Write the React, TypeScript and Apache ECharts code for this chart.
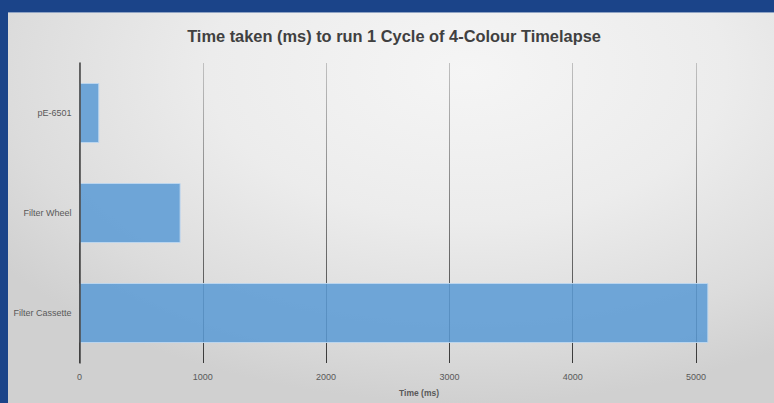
import React, { useEffect, useRef } from 'react';
import * as echarts from 'echarts';

const categories = ['pE-6501', 'Filter Wheel', 'Filter Cassette'];
const timesMs = [160, 820, 5100];
const xTicks = [0, 1000, 2000, 3000, 4000, 5000];
const titleText = 'Time taken (ms) to run 1 Cycle of 4-Colour Timelapse';
const xAxisTitle = 'Time (ms)';

const FONT = "'Liberation Sans', Arial, sans-serif";
const TITLE_FONT = `bold 16.5px ${FONT}`;
const AXIS_TITLE_FONT = `bold 9px ${FONT}`;

function measure(text: string, font: string): number {
  const ctx = document.createElement('canvas').getContext('2d');
  if (!ctx) return 0;
  ctx.font = font;
  return ctx.measureText(text).width;
}

export default function App() {
  const ref = useRef<HTMLDivElement>(null);
  useEffect(() => {
    document.body.style.margin = '0';
    const chart = echarts.init(ref.current!, null, { renderer: 'svg' });
    const tw = measure(titleText, TITLE_FONT);
    const titleScale = tw > 0 ? 414 / tw : 1;
    const aw = measure(xAxisTitle, AXIS_TITLE_FONT);
    const axisScale = aw > 0 ? 40 / aw : 1;
    chart.setOption({
      animation: false,
      textStyle: { fontFamily: FONT },
      grid: { left: 71.5, right: 78, top: 50, bottom: 40, containLabel: false },
      xAxis: {
        type: 'value',
        min: xTicks[0],
        max: xTicks[xTicks.length - 1],
        interval: xTicks[1] - xTicks[0],
        axisLine: { show: false },
        axisTick: { show: false },
        axisLabel: {
          color: '#595959',
          fontSize: 9,
          margin: 9,
          fontFamily: FONT,
          formatter: (v: number) => String(v),
        },
        splitLine: {
          show: true,
          lineStyle: {
            width: 1,
            color: {
              type: 'linear', x: 0, y: 50, x2: 0, y2: 351, global: true,
              colorStops: [
                { offset: 0, color: '#c0c0c0' },
                { offset: 1, color: '#383838' },
              ],
            },
          },
        },
      },
      yAxis: {
        type: 'category',
        inverse: true,
        data: categories,
        z: 3,
        axisLine: { show: true, lineStyle: { color: '#404040', width: 1.5 } },
        axisTick: { show: false },
        axisLabel: { color: '#595959', fontSize: 9, margin: 8, fontFamily: FONT },
        splitLine: { show: false },
      },
      series: [
        {
          type: 'bar',
          data: timesMs,
          barWidth: '60%',
          clip: false,
          itemStyle: {
            color: 'rgba(91,155,213,0.86)',
            borderColor: 'rgba(190,215,240,0.9)',
            borderWidth: 1,
          },
        },
      ],
      graphic: [
        {
          type: 'text',
          x: 386,
          y: 23.2,
          scaleX: titleScale,
          style: {
            text: titleText,
            align: 'center',
            verticalAlign: 'middle',
            font: TITLE_FONT,
            fill: '#404040',
          },
        },
        {
          type: 'text',
          x: 411,
          y: 379.7,
          scaleX: axisScale,
          style: {
            text: xAxisTitle,
            align: 'center',
            verticalAlign: 'middle',
            font: AXIS_TITLE_FONT,
            fill: '#595959',
          },
        },
      ],
    });
    return () => chart.dispose();
  }, []);
  return (
    <div style={{ position: 'relative', width: 774, height: 403, background: '#1b4489', overflow: 'hidden' }}>
      <div
        ref={ref}
        style={{
          position: 'absolute',
          left: 8,
          top: 12,
          width: 766,
          height: 391,
          borderTop: '1px solid #8fa3c4',
          boxSizing: 'border-box',
          background: 'radial-gradient(ellipse 75% 85% at 60% 15%, #f5f5f5 0%, #ececec 45%, #dcdcdc 80%, #d0d0d0 100%)',
        }}
      />
    </div>
  );
}
